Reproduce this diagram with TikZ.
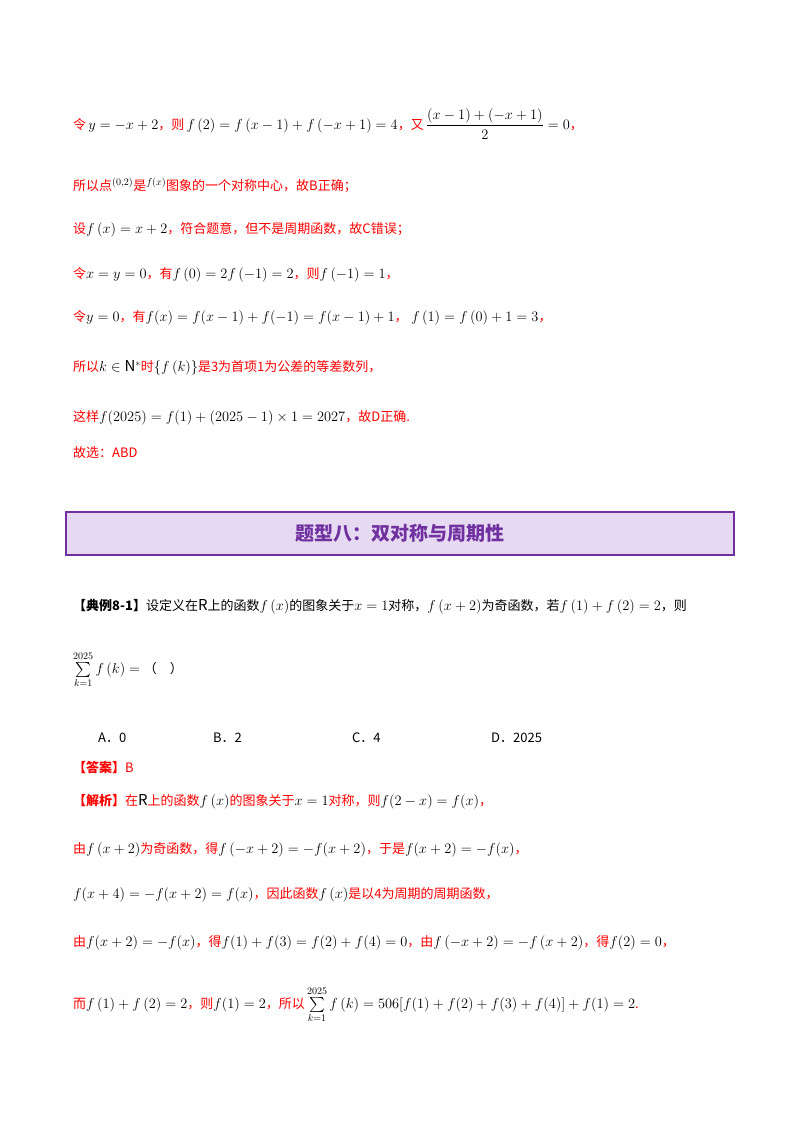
\documentclass[tikz,border=0pt]{standalone}
\usepackage{fontspec}
\usepackage{amsmath,amssymb}
\setmainfont{Noto Sans CJK SC}
\DeclareMathSizes{13}{15}{10}{8}
\definecolor{ttl}{HTML}{7030A0}
\definecolor{ttlbg}{HTML}{E6DAF2}
\newcommand{\R}[1]{\textcolor{red}{#1}}
\begin{document}
\begin{tikzpicture}[x=1pt,y=-1pt,
  line/.style={anchor=west,inner sep=0pt,font=\fontsize{13}{15}\selectfont}]
\useasboundingbox (0,0) rectangle (800,1132);
\fill[white] (0,0) rectangle (800,1132);
\node[line] (l1) at (73,124) {\R{令}\,$y=-x+2$\R{，则}\,$f\left(2\right)=f\left(x-1\right)+f\left(-x+1\right)=4$\R{，又}\,$\dfrac{\left(x-1\right)+\left(-x+1\right)}{2}=0$\R{，}};
\node[line] (l2) at (73,185) {\R{所以点}$^{(0,2)}$\R{是}$^{f(x)}$\R{图象的一个对称中心，故B正确；}};
\node[line] (l3) at (73,230) {\R{设}$f\left(x\right)=x+2$\R{，符合题意，但不是周期函数，故C错误；}};
\node[line] (l4) at (73,275) {\R{令}$x=y=0$\R{，有}$f\left(0\right)=2f\left(-1\right)=2$\R{，则}$f\left(-1\right)=1$\R{，}};
\node[line] (l5) at (73,318) {\R{令}$y=0$\R{，有}$f(x)=f(x-1)+f(-1)=f(x-1)+1$\R{，}\;$f\left(1\right)=f\left(0\right)+1=3$\R{，}};
\node[line] (l6) at (73,368) {\R{所以}$k\in\mathrm{N}^*$\R{时}$\left\{f\left(k\right)\right\}$\R{是3为首项1为公差的等差数列，}};
\node[line] (l7) at (73,418) {\R{这样}$f(2025)=f(1)+(2025-1)\times1=2027$\R{，故D正确.}};
\node[line] (l8) at (73,453) {\R{故选：ABD}};
\node[draw=ttl,line width=2pt,fill=ttlbg,minimum width=668,minimum height=43,inner sep=0pt,
  font=\fontsize{19}{22}\selectfont\bfseries,text=ttl] (title) at (400,533) {题型八：双对称与周期性};
\node[line] (q1) at (73,607) {\textbf{【典例8-1】}设定义在$\mathrm{R}$上的函数$f\left(x\right)$的图象关于$x=1$对称，$f\left(x+2\right)$为奇函数，若$f\left(1\right)+f\left(2\right)=2$，则};
\node[line] (q2) at (73,670) {$\sum\limits_{k=1}^{2025}f\left(k\right)=$\;（\quad）};
\node[line] (oa) at (98,738) {A．0};
\node[line] (ob) at (213,738) {B．2};
\node[line] (oc) at (352,738) {C．4};
\node[line] (od) at (491,738) {D．2025};
\node[line] (ans) at (73,767) {\R{\textbf{【答案】}B}};
\node[line] (s1) at (73,802) {\R{\textbf{【解析】}在}$\mathrm{R}$\R{上的函数}$f\left(x\right)$\R{的图象关于}$x=1$\R{对称，则}$f(2-x)=f(x)$\R{，}};
\node[line] (s2) at (73,850) {\R{由}$f\left(x+2\right)$\R{为奇函数，得}$f\left(-x+2\right)=-f(x+2)$\R{，于是}$f(x+2)=-f(x)$\R{，}};
\node[line] (s3) at (73,895) {$f(x+4)=-f(x+2)=f(x)$\R{，因此函数}$f\left(x\right)$\R{是以4为周期的周期函数，}};
\node[line] (s4) at (73,943) {\R{由}$f(x+2)=-f(x)$\R{，得}$f(1)+f(3)=f(2)+f(4)=0$\R{，由}$f\left(-x+2\right)=-f\left(x+2\right)$\R{，得}$f(2)=0$\R{，}};
\node[line] (s5) at (73,1005) {\R{而}$f\left(1\right)+f\left(2\right)=2$\R{，则}$f(1)=2$\R{，所以}\,$\sum\limits_{k=1}^{2025}f\left(k\right)=506[f(1)+f(2)+f(3)+f(4)]+f(1)=2$\R{.}};
\end{tikzpicture}
\end{document}
